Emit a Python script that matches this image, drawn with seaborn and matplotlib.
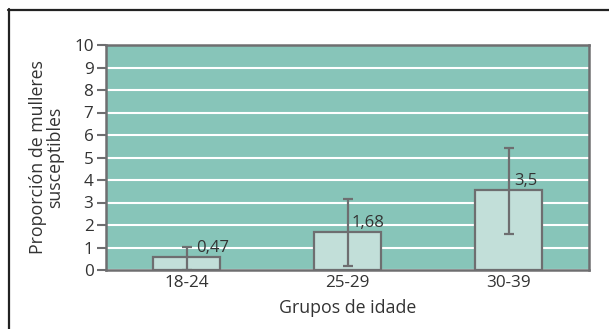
import matplotlib
matplotlib.use("Agg")
import matplotlib.pyplot as plt
import seaborn as sns
import numpy as np
from matplotlib.lines import Line2D
from matplotlib.transforms import offset_copy

groups = ["18-24", "25-29", "30-39"]
bar_heights = [0.58, 1.70, 3.56]
value_labels = ["0,47", "1,68", "3,5"]
err_low = [0.0, 0.18, 1.59]
err_high = [1.02, 3.17, 5.41]
yticks = list(range(0, 11))

sns.set_theme(style="white")
plt.rcParams['font.family'] = ['Open Sans', 'DejaVu Sans']

GRAY = "#6e6e70"
FACE = "#87c5b9"
BAR = "#c2dfd9"
TXT = "#333333"

fig = plt.figure(figsize=(6.09, 3.29), dpi=100)
ax = fig.add_axes([106 / 609, 59 / 329, 483 / 609, 225 / 329])
ax.set_facecolor(FACE)

sns.barplot(x=groups, y=bar_heights, color=BAR, edgecolor=GRAY, linewidth=1.6,
            width=0.42, saturation=1, ax=ax, zorder=3)

xs = np.arange(len(groups))
mid = [(lo + hi) / 2 for lo, hi in zip(err_low, err_high)]
half = [(hi - lo) / 2 for lo, hi in zip(err_low, err_high)]
ax.errorbar(xs, mid, yerr=half, fmt="none", ecolor=GRAY, elinewidth=1.6,
            capsize=3.6, capthick=1.6, zorder=4)

# horizontal offsets (points) of the value labels from the error bar
label_dx = [7.2, 3.0, 4.0]
for x, h, lab, dx in zip(xs, bar_heights, value_labels, label_dx):
    tr = offset_copy(ax.transData, fig=fig, x=dx, y=3.6, units="points")
    ax.text(x, h, lab, ha="left", va="baseline", fontsize=12,
            color=TXT, zorder=5, transform=tr)

ax.set_ylim(0, 10)
ax.set_xlim(-0.5, 2.5)
ax.set_yticks(yticks)
ax.set_yticklabels([str(t) for t in yticks], fontsize=12.3, color=TXT)
ax.yaxis.grid(True, color="white", linewidth=1.5, zorder=0)
ax.set_axisbelow(True)

ax.set_xticks(xs)
ax.set_xticklabels(groups, fontsize=12.3, color=TXT)
ax.set_xticks([-0.5, 0.5, 1.5, 2.5], minor=True)
ax.tick_params(axis="x", which="major", length=0, pad=3.5)
ax.tick_params(axis="x", which="minor", length=5.5, width=1.5, color=GRAY, direction="out")
ax.tick_params(axis="y", length=6.5, width=1.5, color=GRAY, direction="out", pad=2.5, left=True)

for s in ax.spines.values():
    s.set_visible(True)
    s.set_color(GRAY)
    s.set_linewidth(1.8)

ax.set_xlabel("Grupos de idade", fontsize=12.8, color=TXT, labelpad=6)
ax.set_ylabel("Proporción de mulleres\nsusceptibles", fontsize=12.8, color=TXT,
              linespacing=0.95)
ax.yaxis.set_label_coords(-0.087, 0.5)

fig.add_artist(Line2D([8 / 609, 1.0], [1 - 9.5 / 329, 1 - 9.5 / 329],
                      transform=fig.transFigure, color="#222222", linewidth=1.6))
fig.add_artist(Line2D([8.5 / 609, 8.5 / 609], [0, 1 - 9 / 329],
                      transform=fig.transFigure, color="#222222", linewidth=1.6))

fig.savefig("out.png", dpi=100, facecolor="white")
